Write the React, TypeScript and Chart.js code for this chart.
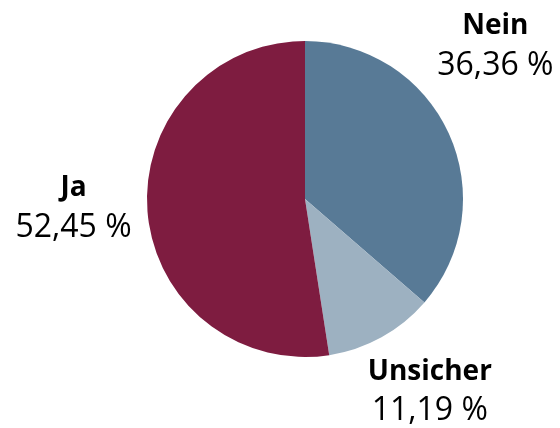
import React, { useEffect, useRef } from "react";
import { Chart, registerables } from "chart.js";

Chart.register(...registerables);

const categories = ["Nein", "Unsicher", "Ja"];
const values = [36.36, 11.19, 52.45];
const valueLabels = ["36,36 %", "11,19 %", "52,45 %"];
const colors = ["#587a96", "#9db1c1", "#7e1c40"];
// label anchor offsets relative to pie center, in radius units (style)
const labelOffsets = [
  [1.205, -0.965],
  [0.79, 1.22],
  [-1.465, 0.06],
];

const labelPlugin = {
  id: "pieLabels",
  afterDraw(chart: any) {
    const meta = chart.getDatasetMeta(0);
    const ctx = chart.ctx;
    ctx.save();
    ctx.textAlign = "center";
    ctx.textBaseline = "middle";
    ctx.fillStyle = "#000000";
    meta.data.forEach((arc: any, i: number) => {
      const r = arc.outerRadius;
      const x = arc.x + labelOffsets[i][0] * r;
      const y = arc.y + labelOffsets[i][1] * r;
      ctx.font = "bold 28px 'Open Sans'";
      ctx.fillText(categories[i], x, y - 20);
      ctx.font = "32px 'Open Sans'";
      ctx.fillText(valueLabels[i], x, y + 19);
    });
    ctx.restore();
  },
};

export default function App() {
  const ref = useRef<HTMLCanvasElement>(null);
  useEffect(() => {
    const chart = new Chart(ref.current!, {
      type: "pie",
      data: {
        labels: categories,
        datasets: [
          {
            data: values,
            backgroundColor: colors,
            borderWidth: 0,
          },
        ],
      },
      options: {
        animation: false,
        responsive: false,
        layout: { padding: { left: 147, right: 97, top: 41, bottom: 71 } },
        plugins: { legend: { display: false }, tooltip: { enabled: false } },
      },
      plugins: [labelPlugin],
    });
    return () => chart.destroy();
  }, []);
  return (
    <div style={{ position: "absolute", left: 0, top: 0, width: 560, height: 428, background: "#fff" }}>
      <canvas ref={ref} width={560} height={428} style={{ width: 560, height: 428 }} />
    </div>
  );
}
